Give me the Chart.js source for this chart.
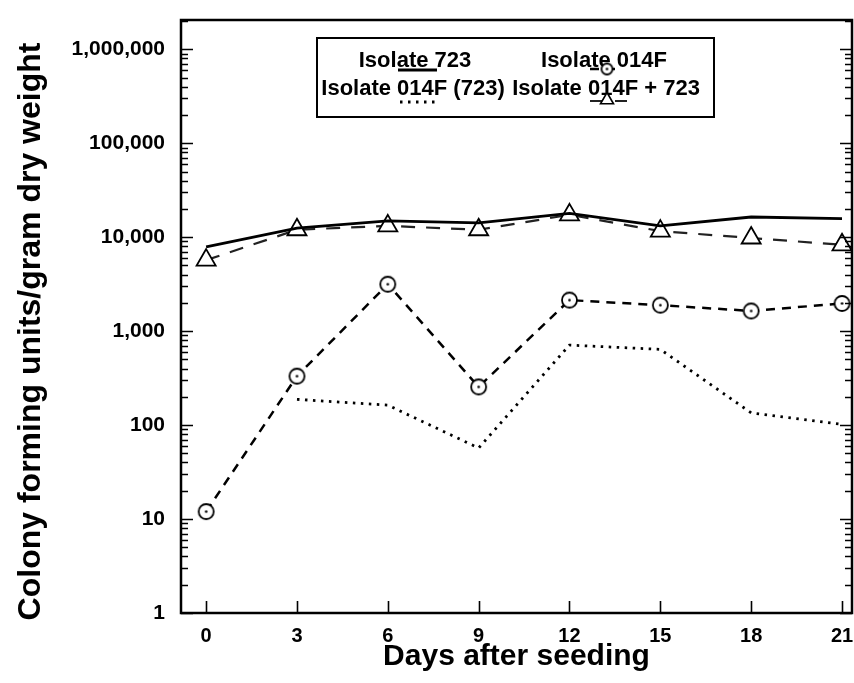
<!DOCTYPE html>
<html>
<head>
<meta charset="utf-8">
<script src="https://cdn.jsdelivr.net/npm/chart.js@4.4.1/dist/chart.umd.min.js"></script>
<style>
  html, body { margin: 0; padding: 0; background: #fff; }
  #wrap { width: 854px; height: 683px; }
</style>
</head>
<body>
<div id="wrap"><canvas id="chart" width="854" height="683"></canvas></div>
<script>
// data
const days = [0, 3, 6, 9, 12, 15, 18, 21];
const iso723 = [7900, 12500, 14900, 14200, 17900, 13200, 16400, 15800];
const iso014F = [12, 332, 3160, 255, 2140, 1890, 1640, 1970];
const iso014F_723 = [null, 188, 163, 57, 710, 640, 135, 102];
const iso014F_plus723 = [5700, 12000, 13200, 12000, 17300, 11600, 9800, 8300];

const seriesNames = ['Isolate 723', 'Isolate 014F', 'Isolate 014F (723)', 'Isolate 014F + 723'];
const yTicks = [1, 10, 100, 1000, 10000, 100000, 1000000];
const dayTicks = [0, 3, 6, 9, 12, 15, 18, 21];

const FONT = '"Liberation Sans", Arial, sans-serif';

function pts(arr) {
  return days.map((d, i) => ({ x: d, y: arr[i] }));
}

// open circle with centre dot
function circleDot(r) {
  const s = Math.ceil(r * 2 + 4);
  const c = document.createElement('canvas');
  c.width = s; c.height = s;
  const g = c.getContext('2d');
  g.fillStyle = '#fff';
  g.strokeStyle = '#000';
  g.lineWidth = 1.8;
  g.beginPath(); g.arc(s / 2, s / 2, r, 0, Math.PI * 2); g.fill(); g.stroke();
  g.fillStyle = '#000';
  g.beginPath(); g.arc(s / 2, s / 2, 1.3, 0, Math.PI * 2); g.fill();
  return c;
}
const dotCircle = circleDot(7.5);
const dotCircleSmall = circleDot(5.5);

// frame + inward ticks
const framePlugin = {
  id: 'frame',
  afterDraw(chart) {
    const ctx = chart.ctx;
    const ca = chart.chartArea;
    const ys = chart.scales.y;
    const xs = chart.scales.x;
    ctx.save();
    ctx.strokeStyle = '#000';
    ctx.lineWidth = 1.6;
    ctx.beginPath();
    for (let d = 0; d <= 6; d++) {
      for (let m = 1; m <= 9; m++) {
        const v = m * Math.pow(10, d);
        if (v > ys.max) continue;
        const py = Math.round(ys.getPixelForValue(v)) + 0.5;
        const len = m === 1 ? 12 : 7;
        ctx.moveTo(ca.left, py); ctx.lineTo(ca.left + len, py);
        ctx.moveTo(ca.right, py); ctx.lineTo(ca.right - len, py);
      }
    }
    dayTicks.forEach(d => {
      const px = Math.round(xs.getPixelForValue(d)) + 0.5;
      ctx.moveTo(px, ca.bottom); ctx.lineTo(px, ca.bottom - 12);
    });
    ctx.stroke();
    ctx.lineWidth = 2.5;
    ctx.strokeRect(ca.left, ca.top, ca.right - ca.left, ca.bottom - ca.top);

    // y axis title
    ctx.fillStyle = '#000';
    ctx.font = 'bold 32px ' + FONT;
    ctx.textAlign = 'center';
    ctx.textBaseline = 'middle';
    ctx.translate(31, (ca.top + ca.bottom) / 2 + 15);
    ctx.rotate(-Math.PI / 2);
    ctx.fillText('Colony forming units/gram dry weight', 0, 0);
    ctx.restore();
  }
};

// legend box, text with sample under it
const legendPlugin = {
  id: 'boxLegend',
  afterDraw(chart) {
    const ctx = chart.ctx;
    const ca = chart.chartArea;
    const bx = ca.left + 136, by = ca.top + 18;
    ctx.save();
    ctx.strokeStyle = '#000';
    ctx.lineWidth = 2;
    ctx.strokeRect(bx, by, 397, 79);

    ctx.fillStyle = '#000';
    ctx.font = 'bold 22px ' + FONT;
    ctx.textAlign = 'center';
    ctx.textBaseline = 'alphabetic';
    ctx.fillText(seriesNames[0], bx + 98, by + 29);
    ctx.fillText(seriesNames[1], bx + 287, by + 29);
    ctx.fillText(seriesNames[2], bx + 96, by + 57);
    ctx.fillText(seriesNames[3], bx + 289, by + 57);

    const ds = chart.data.datasets;
    function sample(i, x0, x1, y) {
      ctx.save();
      ctx.strokeStyle = ds[i].borderColor;
      ctx.lineWidth = ds[i].borderWidth;
      ctx.setLineDash(ds[i].borderDash || []);
      ctx.beginPath(); ctx.moveTo(x0, y); ctx.lineTo(x1, y); ctx.stroke();
      ctx.restore();
    }
    sample(0, bx + 81, bx + 120, by + 32);
    sample(1, bx + 273, bx + 305, by + 31);
    ctx.drawImage(dotCircleSmall, bx + 290 - dotCircleSmall.width / 2, by + 31 - dotCircleSmall.height / 2);
    sample(2, bx + 83, bx + 118, by + 64);
    sample(3, bx + 273, bx + 310, by + 63);
    ctx.strokeStyle = '#000';
    ctx.fillStyle = '#fff';
    ctx.lineWidth = 1.6;
    Chart.helpers.drawPoint(ctx, { pointStyle: 'triangle', radius: 7.5, rotation: 0, borderWidth: 1.6 }, bx + 290, by + 62);
    ctx.restore();
  }
};

function noPad(scale) {
  scale.paddingLeft = 0;
  scale.paddingRight = 0;
  scale.paddingTop = 0;
  scale.paddingBottom = 0;
}

const ctx = document.getElementById('chart').getContext('2d');
new Chart(ctx, {
  type: 'line',
  data: {
    datasets: [
      {
        label: seriesNames[0],
        data: pts(iso723),
        borderColor: '#000',
        borderWidth: 2.8,
        pointRadius: 0,
        tension: 0
      },
      {
        label: seriesNames[1],
        data: pts(iso014F),
        borderColor: '#000',
        borderWidth: 2.5,
        borderDash: [9, 7],
        pointStyle: dotCircle,
        pointRadius: 8,
        tension: 0
      },
      {
        label: seriesNames[2],
        data: pts(iso014F_723),
        borderColor: '#000',
        borderWidth: 2.8,
        borderDash: [2.5, 5.5],
        pointRadius: 0,
        tension: 0
      },
      {
        label: seriesNames[3],
        data: pts(iso014F_plus723),
        borderColor: '#222',
        borderWidth: 2.2,
        borderDash: [14, 11],
        pointStyle: 'triangle',
        pointRadius: 11,
        pointBorderColor: '#000',
        pointBackgroundColor: '#fff',
        pointBorderWidth: 1.8,
        tension: 0
      }
    ]
  },
  options: {
    responsive: false,
    animation: false,
    events: [],
    layout: { autoPadding: false, padding: { left: 0, top: 20, right: 2, bottom: 0 } },
    plugins: {
      legend: { display: false },
      tooltip: { enabled: false }
    },
    scales: {
      x: {
        type: 'linear',
        min: -0.83,
        max: 21.33,
        grid: { display: false, drawTicks: false },
        border: { display: false },
        afterBuildTicks: axis => { axis.ticks = dayTicks.map(v => ({ value: v })); },
        afterFit: scale => { scale.height = 70; noPad(scale); },
        ticks: {
          color: '#000',
          padding: 11,
          font: { family: FONT, size: 20, weight: 'bold' }
        },
        title: {
          display: true,
          text: 'Days after seeding',
          color: '#000',
          padding: { top: 0, bottom: 8 },
          font: { family: FONT, size: 30, weight: 'bold' }
        }
      },
      y: {
        type: 'logarithmic',
        min: 1,
        max: 2050000,
        grid: { display: false, drawTicks: false },
        border: { display: false },
        afterBuildTicks: axis => { axis.ticks = yTicks.map(v => ({ value: v })); },
        afterFit: scale => { scale.width = 181; noPad(scale); },
        ticks: {
          color: '#000',
          padding: 16,
          autoSkip: false,
          font: { family: FONT, size: 21, weight: 'bold' },
          callback: v => Number(v).toLocaleString('en-US')
        }
      }
    }
  },
  plugins: [framePlugin, legendPlugin]
});
</script>
</body>
</html>
